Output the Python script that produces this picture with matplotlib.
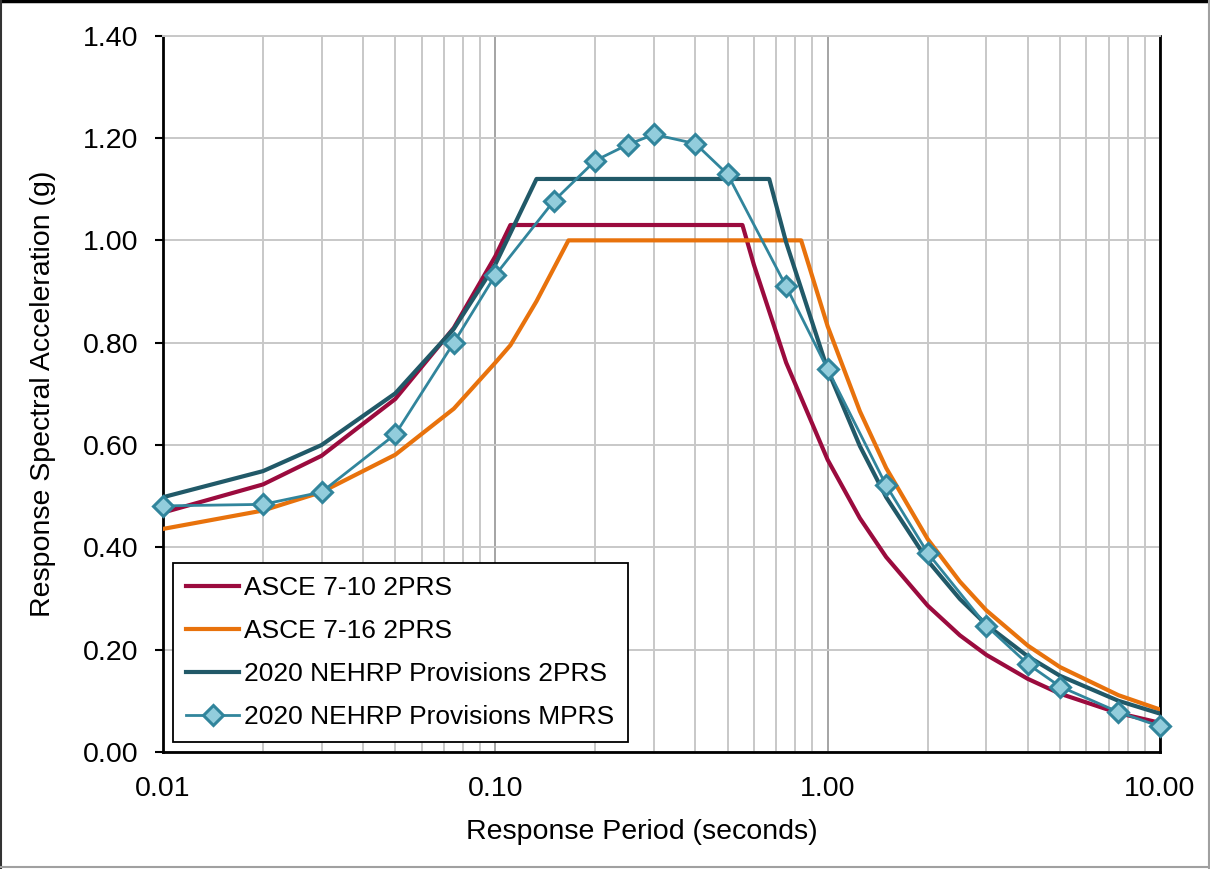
import matplotlib
matplotlib.use("Agg")
import matplotlib.pyplot as plt
from matplotlib.ticker import FixedLocator, FixedFormatter, LogLocator, NullFormatter

plt.rcParams['font.family'] = ['Liberation Sans', 'DejaVu Sans']

# ASCE 7-10 two-period spectrum
t_asce710 = [0.01, 0.02, 0.03, 0.05, 0.075, 0.1, 0.111, 0.554, 0.6, 0.75, 1.0,
             1.25, 1.5, 2.0, 2.5, 3.0, 4.0, 5.0, 7.5, 10.0]
sa_asce710 = [0.468, 0.523, 0.579, 0.690, 0.829, 0.969, 1.03, 1.03, 0.952, 0.761, 0.571,
              0.457, 0.381, 0.286, 0.228, 0.190, 0.143, 0.114, 0.076, 0.057]

# ASCE 7-16 two-period spectrum
t_asce716 = [0.01, 0.02, 0.03, 0.05, 0.075, 0.1, 0.111, 0.133, 0.166, 0.832, 1.0,
             1.25, 1.5, 2.0, 2.5, 3.0, 4.0, 5.0, 7.5, 10.0]
sa_asce716 = [0.436, 0.472, 0.508, 0.581, 0.671, 0.761, 0.795, 0.881, 1.0, 1.0, 0.832,
              0.666, 0.555, 0.416, 0.333, 0.277, 0.208, 0.166, 0.111, 0.083]

# 2020 NEHRP two-period spectrum
t_nehrp2 = [0.01, 0.02, 0.03, 0.05, 0.075, 0.1, 0.133, 0.667, 0.75, 1.0,
            1.25, 1.5, 2.0, 2.5, 3.0, 4.0, 5.0, 7.5, 10.0]
sa_nehrp2 = [0.498, 0.549, 0.600, 0.701, 0.827, 0.953, 1.12, 1.12, 0.996, 0.747,
             0.598, 0.498, 0.374, 0.299, 0.249, 0.187, 0.149, 0.100, 0.075]

# 2020 NEHRP multi-period spectrum
t_mprs = [0.01, 0.02, 0.03, 0.05, 0.075, 0.1, 0.15, 0.2, 0.25, 0.3, 0.4, 0.5,
          0.75, 1.0, 1.5, 2.0, 3.0, 4.0, 5.0, 7.5, 10.0]
sa_mprs = [0.481, 0.484, 0.508, 0.621, 0.800, 0.932, 1.077, 1.156, 1.187, 1.207, 1.189, 1.129,
           0.910, 0.748, 0.521, 0.389, 0.247, 0.172, 0.128, 0.078, 0.050]

x_ticks = [0.01, 0.1, 1.0, 10.0]
x_labels = ["0.01", "0.10", "1.00", "10.00"]
y_ticks = [0.0, 0.2, 0.4, 0.6, 0.8, 1.0, 1.2, 1.4]

fig = plt.figure(figsize=(12.1, 8.69), dpi=100)
ax = fig.add_axes([163 / 1210, 1 - 752 / 869, 997 / 1210, 716.3 / 869])

ax.plot(t_asce710, sa_asce710, color='#9B0B3E', lw=3, label='ASCE 7-10 2PRS', zorder=3)
ax.plot(t_asce716, sa_asce716, color='#E8720C', lw=3, label='ASCE 7-16 2PRS', zorder=3)
ax.plot(t_nehrp2, sa_nehrp2, color='#215968', lw=3, label='2020 NEHRP Provisions 2PRS', zorder=3)
ax.plot(t_mprs, sa_mprs, color='#31859C', lw=2.0, marker='D', markersize=10,
        markerfacecolor='#92CDDC', markeredgecolor='#31859C', markeredgewidth=2.2,
        label='2020 NEHRP Provisions MPRS', zorder=4, clip_on=False)

ax.set_xscale('log')
ax.set_xlim(0.01, 10)
ax.set_ylim(0, 1.4)

ax.xaxis.set_major_locator(FixedLocator(x_ticks))
ax.xaxis.set_major_formatter(FixedFormatter(x_labels))
ax.xaxis.set_minor_locator(LogLocator(base=10, subs=range(2, 10)))
ax.xaxis.set_minor_formatter(NullFormatter())
ax.set_yticks(y_ticks)
ax.set_yticklabels([f"{v:.2f}" for v in y_ticks])

ax.grid(True, which='major', axis='x', color='#8C8C8C', lw=1.1, zorder=0)
ax.grid(True, which='minor', axis='x', color='#C8C8C8', lw=1.4, zorder=0)
ax.grid(True, which='major', axis='y', color='#C8C8C8', lw=1.4, zorder=0)
ax.set_axisbelow(True)

ax.tick_params(axis='x', which='both', length=0, pad=17, labelsize=20.5)
ax.tick_params(axis='y', which='major', length=6, width=1.5, direction='out', pad=12, labelsize=20.5)

for side in ['left', 'bottom', 'right']:
    ax.spines[side].set_color('black')
    ax.spines[side].set_linewidth(2)
ax.spines['top'].set_color('#C8C8C8')
ax.spines['top'].set_linewidth(1.4)

ax.set_xlabel('Response Period (seconds)', fontsize=20.5, va='center')
ax.xaxis.set_label_coords(0.4805, -0.1117)
ax.set_ylabel('Response Spectral Acceleration (g)', fontsize=20.5, va='center')
ax.yaxis.set_label_coords(-0.1204, 0.5)

leg = ax.legend(loc='lower left', bbox_to_anchor=(0.010, 0.014), borderaxespad=0,
                fontsize=19, frameon=True, fancybox=False, edgecolor='black',
                framealpha=1, handlelength=2.0, handletextpad=0.2, labelspacing=0.72,
                borderpad=0.5)
leg.get_frame().set_linewidth(1.3)

# outer frame of the picture
fig.add_artist(plt.Line2D([0, 1], [0.999, 0.999], transform=fig.transFigure, color='black', lw=2.5))
fig.add_artist(plt.Line2D([0.001, 0.001], [0, 1], transform=fig.transFigure, color='#333333', lw=1.5))
fig.add_artist(plt.Line2D([0.999, 0.999], [0, 1], transform=fig.transFigure, color='#A0A0A0', lw=1.5))
fig.add_artist(plt.Line2D([0, 1], [0.002, 0.002], transform=fig.transFigure, color='#A0A0A0', lw=1.5))

fig.savefig('out.png', dpi=100)
